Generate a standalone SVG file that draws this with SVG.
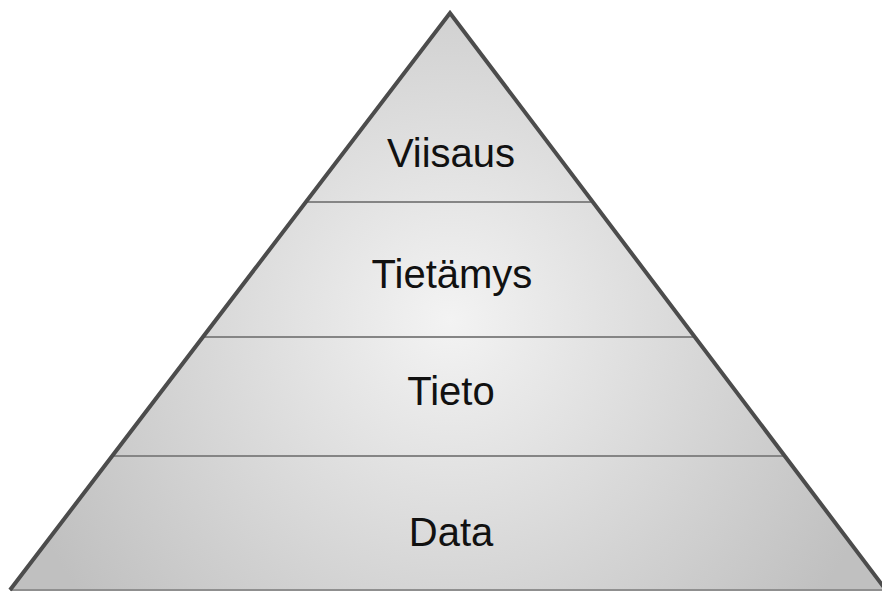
<svg xmlns="http://www.w3.org/2000/svg" width="882" height="592" viewBox="0 0 882 592">
  <defs>
    <radialGradient id="fillGrad" gradientUnits="userSpaceOnUse" cx="450" cy="320" r="460">
      <stop offset="0" stop-color="#f3f3f3"/>
      <stop offset="1" stop-color="#c0c0c0"/>
    </radialGradient>
    <style>
      .layer { fill: url(#fillGrad); stroke: none; }
      .divider { stroke: #858585; stroke-width: 2; fill: none; }
      .outline { fill: none; stroke: #4c4c4c; stroke-width: 4; stroke-linejoin: miter; }
      .base { stroke: #8f8f8f; stroke-width: 2; }
      .label { font-family: "Liberation Sans", Arial, sans-serif; font-size: 40px; fill: #111; text-anchor: middle; }
    </style>
  </defs>
  <rect width="882" height="592" fill="#ffffff"/>
  <g id="layer-viisaus">
    <polygon class="layer" points="450,13 306,202 593,202"/>
    <text class="label" x="451" y="167">Viisaus</text>
  </g>
  <g id="layer-tietamys">
    <polygon class="layer" points="306,202 593,202 695,337 203,337"/>
    <text class="label" x="452" y="288">Tietämys</text>
  </g>
  <g id="layer-tieto">
    <polygon class="layer" points="203,337 695,337 785,456 112,456"/>
    <text class="label" x="451" y="405">Tieto</text>
  </g>
  <g id="layer-data">
    <polygon class="layer" points="112,456 785,456 886,590 10,590"/>
    <text class="label" x="451" y="546">Data</text>
  </g>
  <g id="connectors">
    <line class="divider" x1="306" y1="202" x2="593" y2="202"/>
    <line class="divider" x1="203" y1="337" x2="695" y2="337"/>
    <line class="divider" x1="112" y1="456" x2="785" y2="456"/>
    <line class="base" x1="10" y1="590" x2="886" y2="590"/>
    <polyline class="outline" points="10,590 450,13 886,590"/>
  </g>
</svg>
